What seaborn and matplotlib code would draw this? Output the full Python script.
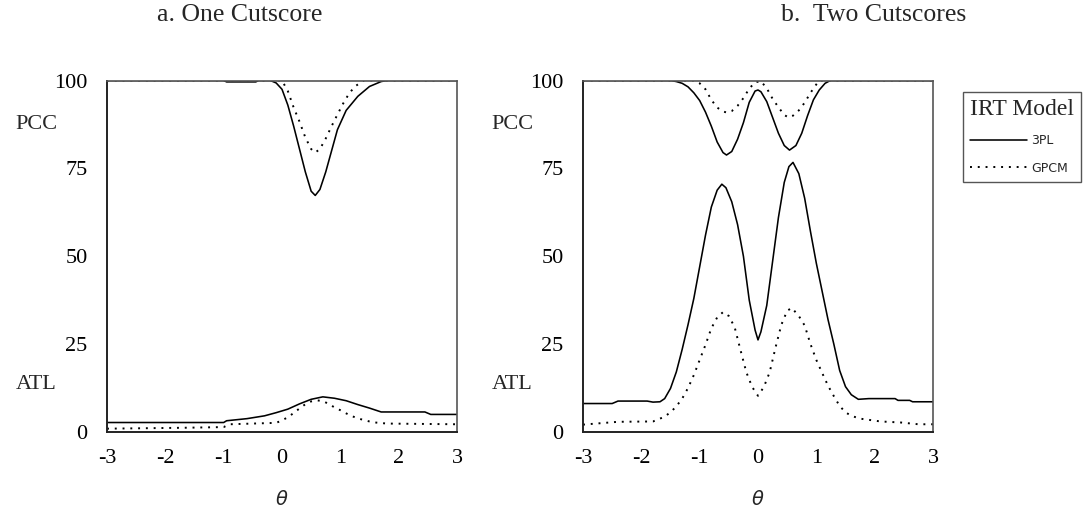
import numpy as np
import pandas as pd
import matplotlib
matplotlib.use("Agg")
import matplotlib.pyplot as plt
from matplotlib.lines import Line2D
import seaborn as sns

# ---------------- data ----------------
# Panel a: One cutscore
a_pcc_3pl_x = [-3, -1.0, -0.95, -0.45, -0.4, -0.2, -0.1, 0.0, 0.1, 0.2, 0.3, 0.4, 0.5, 0.57, 0.65, 0.75, 0.85, 0.95, 1.1, 1.3, 1.5, 1.7, 1.8, 3]
a_pcc_3pl_y = [100, 100, 99.6, 99.6, 100, 100, 99.3, 97.5, 93, 87, 80.5, 74, 68.5, 67.3, 69, 74, 80, 86, 91.5, 95.5, 98.3, 99.7, 100, 100]
a_pcc_gpcm_x = [-3, 0.0, 0.1, 0.2, 0.3, 0.4, 0.5, 0.57, 0.65, 0.75, 0.85, 0.95, 1.05, 1.15, 1.25, 1.4, 3]
a_pcc_gpcm_y = [100, 100, 97, 92.3, 88.3, 83.8, 80.5, 79.5, 80.5, 83.5, 87, 90.3, 93.5, 96.3, 98.3, 100, 100]
a_atl_3pl_x = [-3, -1.0, -0.95, -0.6, -0.3, -0.1, 0.1, 0.3, 0.5, 0.7, 0.9, 1.1, 1.3, 1.5, 1.7, 2.45, 2.55, 3]
a_atl_3pl_y = [2.7, 2.7, 3.2, 3.8, 4.6, 5.5, 6.5, 8.0, 9.3, 10.0, 9.6, 8.9, 7.8, 6.8, 5.7, 5.7, 5.0, 5.0]
a_atl_gpcm_x = [-3, -1.7, -1.0, -0.9, -0.1, 0.0, 0.1, 0.2, 0.3, 0.4, 0.5, 0.6, 0.7, 0.8, 0.9, 1.0, 1.1, 1.2, 1.3, 1.4, 1.5, 1.6, 1.8, 3]
a_atl_gpcm_y = [0.95, 1.2, 1.4, 2.2, 2.6, 3.3, 4.2, 5.4, 6.7, 7.9, 8.7, 9.0, 8.8, 8.0, 7.0, 6.2, 5.3, 4.5, 3.9, 3.4, 3.0, 2.7, 2.4, 2.2]

# Panel b: Two cutscores
b_pcc_3pl_x = [-3, -1.5, -1.4, -1.3, -1.2, -1.1, -1.0, -0.9, -0.8, -0.7, -0.6, -0.54, -0.45, -0.35, -0.25, -0.15, -0.05, 0.0, 0.05, 0.15, 0.25, 0.35, 0.45, 0.54, 0.65, 0.75, 0.85, 0.95, 1.05, 1.15, 1.24, 3]
b_pcc_3pl_y = [100, 100, 99.7, 99.2, 98.2, 96.5, 94.3, 91, 87, 82.5, 79.5, 78.8, 79.8, 83.3, 88, 93.8, 97, 97.3, 96.8, 94, 89.5, 85, 81.5, 80.2, 81.5, 85, 90, 94.5, 97.3, 99.2, 100, 100]
b_pcc_gpcm_x = [-3, -1.1, -1.0, -0.9, -0.8, -0.7, -0.6, -0.54, -0.45, -0.35, -0.25, -0.15, -0.05, 0.05, 0.15, 0.25, 0.35, 0.45, 0.52, 0.6, 0.7, 0.8, 0.9, 1.0, 1.05, 3]
b_pcc_gpcm_y = [100, 100, 99.2, 97.5, 94.5, 92.3, 91.2, 90.9, 91.3, 92.8, 95, 97.7, 99.5, 99.8, 97.8, 94.8, 92.4, 90.2, 89.5, 90, 91.5, 93.7, 96.5, 98.9, 100, 100]
b_atl_3pl_x = [-3, -2.5, -2.4, -1.9, -1.8, -1.68, -1.6, -1.5, -1.4, -1.3, -1.2, -1.1, -1.0, -0.9, -0.8, -0.7, -0.62, -0.55, -0.45, -0.35, -0.25, -0.15, -0.05, 0.0, 0.05, 0.15, 0.25, 0.35, 0.45, 0.53, 0.6, 0.7, 0.8, 0.9, 1.0, 1.1, 1.2, 1.3, 1.4, 1.5, 1.6, 1.72, 1.9, 2.35, 2.4, 2.6, 2.65, 3]
b_atl_3pl_y = [8.1, 8.1, 8.8, 8.8, 8.5, 8.6, 9.5, 12.4, 17.1, 23.5, 30.5, 38, 47, 56, 64, 68.8, 70.5, 69.5, 65.5, 59, 50, 37.5, 29, 26.2, 28.5, 36, 48.5, 61, 71, 75.5, 76.7, 73.5, 66.5, 57, 48, 40, 32, 25, 17.5, 12.9, 10.6, 9.3, 9.5, 9.5, 9.0, 9.0, 8.6, 8.6]
b_atl_gpcm_x = [-3, -2.4, -1.8, -1.68, -1.6, -1.5, -1.4, -1.3, -1.2, -1.1, -1.0, -0.9, -0.8, -0.7, -0.6, -0.5, -0.4, -0.3, -0.2, -0.1, 0.0, 0.1, 0.2, 0.3, 0.4, 0.5, 0.58, 0.7, 0.8, 0.9, 1.0, 1.1, 1.2, 1.3, 1.4, 1.5, 1.6, 1.75, 2.1, 2.45, 2.75, 3]
b_atl_gpcm_y = [2.1, 2.9, 3.0, 3.8, 4.4, 5.6, 7.3, 9.5, 12.5, 16.2, 20.5, 24.8, 29.5, 32.6, 34.1, 33.0, 29.8, 23.3, 17, 12.8, 10.3, 12.8, 17, 24, 30.5, 34.5, 35.3, 33.0, 30.3, 25, 20.5, 16.8, 13.2, 10.2, 7.4, 5.6, 4.6, 3.8, 3.0, 2.7, 2.2, 2.2]

panel_titles = ["a. One Cutscore", "b.  Two Cutscores"]
models = ["3PL", "GPCM"]
x_ticks = [-3, -2, -1, 0, 1, 2, 3]
y_ticks = [0, 25, 50, 75, 100]

def make_df(series):
    rows = []
    for (measure, model), (xs, ys) in series.items():
        for xv, yv in zip(xs, ys):
            rows.append({"theta": xv, "value": yv, "measure": measure, "model": model})
    return pd.DataFrame(rows)

df_a = make_df({("PCC", "3PL"): (a_pcc_3pl_x, a_pcc_3pl_y),
                ("PCC", "GPCM"): (a_pcc_gpcm_x, a_pcc_gpcm_y),
                ("ATL", "3PL"): (a_atl_3pl_x, a_atl_3pl_y),
                ("ATL", "GPCM"): (a_atl_gpcm_x, a_atl_gpcm_y)})
df_b = make_df({("PCC", "3PL"): (b_pcc_3pl_x, b_pcc_3pl_y),
                ("PCC", "GPCM"): (b_pcc_gpcm_x, b_pcc_gpcm_y),
                ("ATL", "3PL"): (b_atl_3pl_x, b_atl_3pl_y),
                ("ATL", "GPCM"): (b_atl_gpcm_x, b_atl_gpcm_y)})

# ---------------- style ----------------
sns.set_style("white")
plt.rcParams["font.family"] = ["Liberation Serif", "DejaVu Serif"]
plt.rcParams["axes.unicode_minus"] = False

fig = plt.figure(figsize=(10.88, 5.14), dpi=100)
W, H = 1088, 514
ax_a = fig.add_axes([107 / W, (H - 432) / H, 350 / W, 351.5 / H])
ax_b = fig.add_axes([583 / W, (H - 432) / H, 350 / W, 351.5 / H])

lw_map = {"3PL": 1.15, "GPCM": 1.4}

for ax, df, title, cx in [(ax_a, df_a, panel_titles[0], 240), (ax_b, df_b, panel_titles[1], 874)]:
    for (measure, model), sub in df.groupby(["measure", "model"], sort=False):
        sns.lineplot(data=sub, x="theta", y="value", ax=ax, color="black",
                     estimator=None, sort=False, linewidth=lw_map[model],
                     linestyle="-" if model == "3PL" else (0, (1, 3)),
                     legend=False)
    ax.set_xlim(-3, 3)
    ax.set_ylim(0, 100)
    ax.set_xticks(x_ticks)
    ax.set_yticks(y_ticks)
    ax.set_xticklabels([str(t) for t in x_ticks])
    ax.set_yticklabels([str(t) for t in y_ticks])
    ax.tick_params(axis="both", direction="out", length=5, width=2, color="black",
                   labelsize=16, pad=7, labelcolor="black")
    ax.tick_params(axis="y", pad=9)
    for sp in ["left", "bottom"]:
        ax.spines[sp].set_color("#222222")
        ax.spines[sp].set_linewidth(1.4)
    for sp in ["top", "right"]:
        ax.spines[sp].set_color("#555555")
        ax.spines[sp].set_linewidth(1.2)
    ax.set_xlabel(r"$\theta$", fontsize=14, labelpad=16)
    ax.set_ylabel("")
    ax.text(-0.203, 87.5, "PCC", transform=ax.get_yaxis_transform(), ha="center",
            va="center", fontsize=16)
    ax.text(-0.203, 13.5, "ATL", transform=ax.get_yaxis_transform(), ha="center",
            va="center", fontsize=16)
    fig.text(cx / W, 1 - 15 / H, title, ha="center", va="center", fontsize=18.5,
             family=["Liberation Serif"])

handles = [Line2D([], [], color="black", lw=1.15, linestyle="-"),
           Line2D([], [], color="black", lw=1.4, linestyle=(0, (1, 3)))]
leg = fig.legend(handles, models, title="IRT Model", loc="upper left",
                 bbox_to_anchor=(963 / W, 1 - 92 / H), frameon=True, fancybox=False,
                 edgecolor="#555555", framealpha=1, handlelength=4.6,
                 handletextpad=0.3, borderpad=0.55, borderaxespad=0,
                 labelspacing=1.15,
                 prop={"family": "DejaVu Sans", "size": 9},
                 title_fontproperties={"family": "Liberation Serif", "size": 17})
leg._legend_box.align = "left"
leg.get_frame().set_linewidth(1.0)

fig.savefig("out.png", dpi=100)
